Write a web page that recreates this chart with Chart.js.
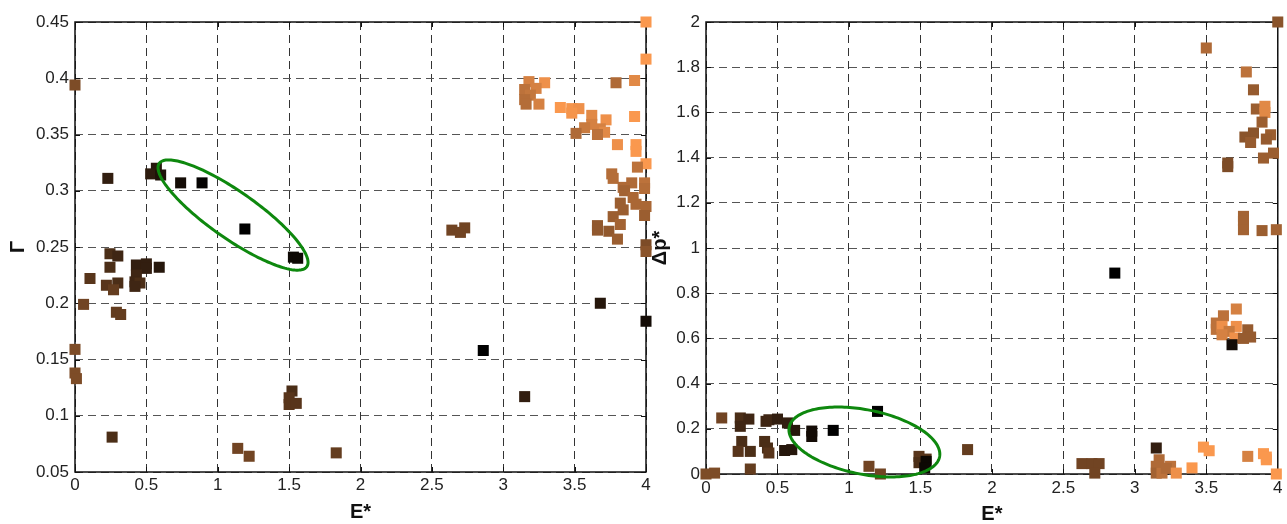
<!DOCTYPE html>
<html>
<head>
<meta charset="utf-8">
<script src="https://cdn.jsdelivr.net/npm/chart.js@4"></script>
<style>
  body { margin: 0; background: #fff; }
  #wrap { position: relative; width: 1287px; height: 524px; }
  canvas { position: absolute; top: 0; }
</style>
</head>
<body>
<div id="wrap">
  <canvas id="gammaChart" width="660" height="524" style="left:0"></canvas>
  <canvas id="dpChart" width="637" height="524" style="left:650px"></canvas>
</div>
<script>
// tick values
const eTicks = [0, 0.5, 1, 1.5, 2, 2.5, 3, 3.5, 4];
const gammaTicks = [0.05, 0.1, 0.15, 0.2, 0.25, 0.3, 0.35, 0.4, 0.45];
const dpTicks = [0, 0.2, 0.4, 0.6, 0.8, 1, 1.2, 1.4, 1.6, 1.8, 2];

// left panel: E* vs Gamma, shade = colour level (0 black .. 1 orange)
const leftE = [
  4.00, 4.00, 3.18, 3.29, 3.23, 3.15, 3.19, 3.15, 3.25, 3.16, 3.40, 3.48, 3.53, 3.48,
  3.79, 3.92, 3.92, 3.62, 3.72, 3.62, 3.57, 3.68, 3.71, 3.51, 3.66, 3.80, 3.93, 3.93,
  4.00, 3.94, 3.76, 3.77, 3.90, 3.99, 3.99, 3.84, 3.85, 3.91, 3.82, 3.93, 4.00, 3.84,
  3.99, 3.77, 3.82, 3.66, 3.66, 3.74, 3.80, 4.00, 4.00,
  2.64, 2.73, 2.70, 4.00, 3.68, 2.86, 3.15, 1.83,
  0.00, 0.23, 0.57, 0.53, 0.60, 0.74, 0.89, 1.19, 1.53, 1.56,
  0.245, 0.30, 0.245, 0.43, 0.50, 0.50, 0.59, 0.43, 0.105, 0.42, 0.455, 0.42, 0.22, 0.30,
  0.27, 0.06, 0.29, 0.32, 0.00, 0.00, 0.01, 0.26, 1.14, 1.22, 1.52, 1.50, 1.50, 1.55
];
const leftGamma = [
  0.450, 0.417, 0.397, 0.396, 0.391, 0.390, 0.385, 0.381, 0.377, 0.377, 0.374, 0.373, 0.373, 0.369,
  0.396, 0.398, 0.366, 0.367, 0.363, 0.359, 0.356, 0.355, 0.352, 0.351, 0.350, 0.341, 0.341, 0.335,
  0.324, 0.321, 0.315, 0.311, 0.307, 0.307, 0.302, 0.303, 0.300, 0.294, 0.289, 0.288, 0.286, 0.283,
  0.278, 0.277, 0.270, 0.269, 0.265, 0.264, 0.257, 0.252, 0.246,
  0.265, 0.267, 0.263, 0.184, 0.200, 0.158, 0.117, 0.067,
  0.394, 0.311, 0.320, 0.315, 0.314, 0.307, 0.307, 0.266, 0.241, 0.240,
  0.244, 0.242, 0.232, 0.234, 0.235, 0.231, 0.232, 0.225, 0.222, 0.219, 0.218, 0.215, 0.216, 0.218,
  0.212, 0.199, 0.192, 0.190, 0.159, 0.138, 0.133, 0.081, 0.071, 0.064, 0.122, 0.116, 0.110, 0.111
];
const leftShade = [
  1.00, 1.00, 0.85, 0.95, 0.85, 0.75, 0.78, 0.72, 0.85, 0.72, 1.00, 0.98, 0.95, 0.98,
  0.70, 0.90, 1.00, 0.90, 0.95, 0.85, 0.80, 0.85, 0.90, 0.70, 0.75, 0.95, 1.00, 1.00,
  1.00, 0.75, 0.72, 0.72, 0.70, 0.75, 0.72, 0.70, 0.65, 0.68, 0.62, 0.68, 0.68, 0.62,
  0.62, 0.62, 0.65, 0.58, 0.58, 0.58, 0.62, 0.50, 0.55,
  0.45, 0.45, 0.45, 0.08, 0.15, 0.00, 0.20, 0.40,
  0.50, 0.20, 0.15, 0.18, 0.12, 0.08, 0.02, 0.00, 0.05, 0.05,
  0.30, 0.25, 0.30, 0.20, 0.20, 0.20, 0.15, 0.25, 0.35, 0.25, 0.30, 0.25, 0.35, 0.30,
  0.40, 0.45, 0.40, 0.40, 0.50, 0.50, 0.50, 0.30, 0.45, 0.45, 0.30, 0.35, 0.35, 0.35
];

// right panel: E* vs delta p*
const rightE = [
  4.00, 3.50, 3.78, 3.83, 3.85, 3.91, 3.91, 3.89, 3.83, 3.77, 3.81, 3.95, 3.92, 3.97,
  3.90, 3.65, 3.65, 3.76, 3.76, 3.76, 3.89, 3.99,
  2.86, 3.71, 3.62, 3.57, 3.57, 3.61, 3.71, 3.79, 3.66, 3.61, 3.70, 3.81, 3.76, 3.68,
  1.83, 2.63, 2.70, 2.75, 2.72, 3.15, 3.17, 3.15, 3.25, 3.15, 3.19, 3.22, 3.29, 3.40,
  3.48, 3.52, 3.79, 3.90, 3.92, 3.92, 3.99,
  0.11, 0.24, 0.30, 0.24, 0.42, 0.44, 0.50, 0.57, 0.62, 0.74, 0.74, 0.89, 1.20,
  0.25, 0.225, 0.31, 0.41, 0.43, 0.44, 0.55, 0.60,
  0.00, 0.06, 0.31, 1.14, 1.22, 1.49, 1.54, 1.49, 1.54, 1.53
];
const rightDp = [
  2.000, 1.885, 1.779, 1.700, 1.615, 1.627, 1.600, 1.557, 1.509, 1.491, 1.467, 1.501, 1.482, 1.420,
  1.398, 1.376, 1.360, 1.140, 1.120, 1.081, 1.077, 1.081,
  0.889, 0.730, 0.700, 0.668, 0.640, 0.653, 0.653, 0.638, 0.631, 0.616, 0.602, 0.606, 0.600, 0.572,
  0.108, 0.046, 0.046, 0.046, 0.004, 0.115, 0.063, 0.034, 0.034, 0.004, 0.004, 0.025, 0.004, 0.027,
  0.119, 0.103, 0.078, 0.090, 0.063, 0.075, 0.000,
  0.248, 0.248, 0.243, 0.211, 0.233, 0.240, 0.243, 0.226, 0.193, 0.166, 0.190, 0.193, 0.277,
  0.144, 0.100, 0.100, 0.144, 0.115, 0.093, 0.104, 0.108,
  0.000, 0.004, 0.022, 0.034, 0.000, 0.078, 0.066, 0.050, 0.056, 0.027
];
const rightShade = [
  0.55, 0.70, 0.75, 0.60, 0.62, 0.90, 0.90, 0.62, 0.55, 0.55, 0.60, 0.62, 0.60, 0.62,
  0.62, 0.50, 0.50, 0.65, 0.65, 0.65, 0.62, 0.65,
  0.00, 0.85, 0.75, 0.75, 0.75, 0.95, 0.95, 0.60, 0.80, 0.85, 0.95, 0.60, 0.60, 0.08,
  0.40, 0.45, 0.45, 0.45, 0.45, 0.20, 0.70, 0.70, 0.75, 0.65, 0.75, 0.70, 0.95, 1.00,
  1.00, 1.00, 0.85, 1.00, 1.00, 1.00, 1.00,
  0.45, 0.30, 0.25, 0.25, 0.25, 0.25, 0.20, 0.20, 0.15, 0.08, 0.08, 0.00, 0.00,
  0.30, 0.35, 0.30, 0.30, 0.30, 0.35, 0.15, 0.15,
  0.50, 0.50, 0.40, 0.45, 0.45, 0.35, 0.35, 0.30, 0.05, 0.05
];

// green ellipses: centre (E, y) and two semi-axis vectors in data units
const gammaEllipse = { cx: 1.107, cy: 0.2784, ax: 0.517, ay: -0.0459, bx: -0.0943, by: -0.0171 };
const dpEllipse = { cx: 1.108, cy: 0.1416, ax: 0.526, ay: -0.0655, bx: -0.043, by: -0.140 };

const FONT = 'Liberation Sans, Arial, Helvetica, sans-serif';

function copper(c) {
  return 'rgb(' + Math.round(250 * c) + ',' + Math.round(152 * c) + ',' + Math.round(78 * c) + ')';
}

function fmt(v) {
  return String(Math.round(v * 100) / 100);
}

// box, inward ticks and the ellipse
const framePlugin = {
  id: 'frame',
  beforeDatasetsDraw(chart) {
    const { ctx, chartArea: a, scales } = chart;
    ctx.save();
    ctx.strokeStyle = '#111';
    ctx.lineWidth = 1.5;
    ctx.strokeRect(a.left, a.top, a.right - a.left, a.bottom - a.top);
    ctx.lineWidth = 1;
    ctx.beginPath();
    scales.x.ticks.forEach(t => {
      const px = Math.round(scales.x.getPixelForValue(t.value)) + 0.5;
      ctx.moveTo(px, a.bottom); ctx.lineTo(px, a.bottom - 5);
      ctx.moveTo(px, a.top); ctx.lineTo(px, a.top + 5);
    });
    scales.y.ticks.forEach(t => {
      const py = Math.round(scales.y.getPixelForValue(t.value)) + 0.5;
      ctx.moveTo(a.left, py); ctx.lineTo(a.left + 5, py);
      ctx.moveTo(a.right, py); ctx.lineTo(a.right - 5, py);
    });
    ctx.stroke();
    ctx.restore();
  },
  afterDatasetsDraw(chart, args, opts) {
    const e = opts.ellipse;
    if (!e) return;
    const { ctx, scales: { x, y } } = chart;
    ctx.save();
    ctx.beginPath();
    for (let i = 0; i <= 180; i++) {
      const t = i / 180 * 2 * Math.PI;
      const px = x.getPixelForValue(e.cx + e.ax * Math.cos(t) + e.bx * Math.sin(t));
      const py = y.getPixelForValue(e.cy + e.ay * Math.cos(t) + e.by * Math.sin(t));
      if (i === 0) ctx.moveTo(px, py); else ctx.lineTo(px, py);
    }
    ctx.closePath();
    ctx.strokeStyle = 'rgb(14,136,14)';
    ctx.lineWidth = 3;
    ctx.stroke();
    ctx.restore();
  }
};

function makeChart(id, xs, ys, shades, yTicks, yTitle, yMin, yMax, geo, ellipse) {
  const points = xs.map((v, i) => ({ x: v, y: ys[i] }));
  return new Chart(document.getElementById(id), {
    type: 'scatter',
    data: {
      datasets: [{
        data: points,
        pointStyle: 'rect',
        pointRadius: 7.8,
        pointBorderWidth: 0,
        pointBackgroundColor: shades.map(copper),
        clip: false
      }]
    },
    options: {
      responsive: false,
      animation: false,
      layout: { padding: { top: 22, right: geo.padRight, left: 0, bottom: 0 } },
      plugins: {
        legend: { display: false },
        tooltip: { enabled: false },
        frame: { ellipse: ellipse }
      },
      scales: {
        x: {
          type: 'linear',
          min: 0, max: 4,
          afterBuildTicks: s => { s.ticks = eTicks.map(v => ({ value: v })); },
          afterFit: s => { s.height = geo.xHeight; },
          ticks: { font: { family: FONT, size: 17 }, color: '#222', padding: geo.xTickPad,
                   callback: fmt, maxRotation: 0, autoSkip: false },
          grid: { color: '#333', drawTicks: false },
          border: { display: false, dash: [8, 5] },
          title: { display: true, text: 'E*', color: '#111',
                   font: { family: FONT, size: 20, weight: 'bold', lineHeight: 1 },
                   padding: { top: 0, bottom: geo.xTitlePad } }
        },
        y: {
          type: 'linear',
          min: yMin, max: yMax,
          afterBuildTicks: s => { s.ticks = yTicks.map(v => ({ value: v })); },
          afterFit: s => { s.width = geo.yWidth; },
          ticks: { font: { family: FONT, size: 17 }, color: '#222', padding: 6,
                   callback: fmt, autoSkip: false },
          grid: { color: '#555', drawTicks: false },
          border: { display: false, dash: [8, 5] },
          title: { display: true, text: yTitle, color: '#111',
                   font: { family: FONT, size: 20, weight: 'bold', lineHeight: 1 },
                   padding: { top: geo.yTitlePad, bottom: 0 } }
        }
      }
    },
    plugins: [framePlugin]
  });
}

makeChart('gammaChart', leftE, leftGamma, leftShade, gammaTicks, 'Γ', 0.05, 0.45,
  { padRight: 14, xHeight: 52, yWidth: 75, xTickPad: 3, xTitlePad: 2, yTitlePad: 8 }, gammaEllipse);
makeChart('dpChart', rightE, rightDp, rightShade, dpTicks, 'Δp*', 0, 2,
  { padRight: 5, xHeight: 50, yWidth: 56, xTickPad: 4.5, xTitlePad: 0, yTitlePad: 0 }, dpEllipse);
</script>
</body>
</html>
